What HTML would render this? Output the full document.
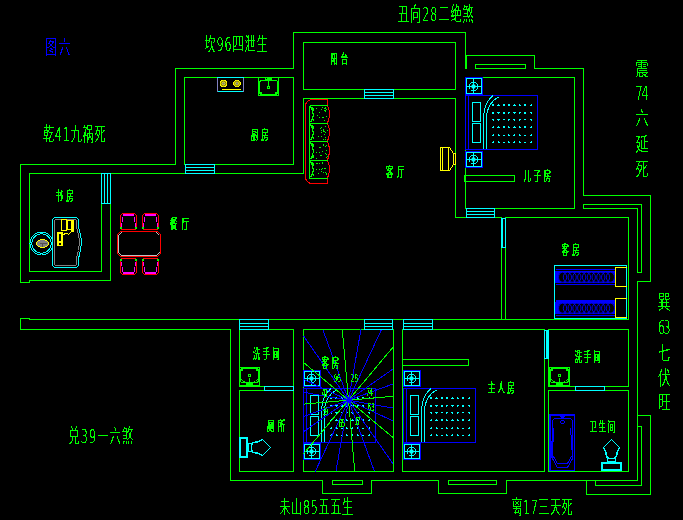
<!DOCTYPE html>
<html lang="zh"><head><meta charset="utf-8"><title>图六</title>
<style>
html,body{margin:0;padding:0;background:#000;overflow:hidden}
svg{display:block}
svg path{stroke-width:1;shape-rendering:crispEdges}
svg path:not(.f){fill:none}
svg path.s,svg circle.s,svg ellipse.s{shape-rendering:crispEdges;stroke-width:1;fill:none}
svg path.f{stroke:none;shape-rendering:crispEdges}
svg text{font-family:"Liberation Sans","Noto Sans CJK SC",sans-serif;font-weight:300}
svg text.sm{font-weight:400}
svg text{filter:url(#tb)}
svg text.sm{filter:url(#ts)}
svg tspan.d{font-family:"DejaVu Sans","Liberation Sans",sans-serif;font-weight:200}
</style></head><body>
<svg width="683" height="520" viewBox="0 0 683 520">
<defs>
<filter id="tb" x="-5%" y="-20%" width="110%" height="140%" color-interpolation-filters="sRGB"><feComponentTransfer><feFuncA type="discrete" tableValues="0 0 0 1 1 1 1 1 1 1"/></feComponentTransfer></filter>
<filter id="ts" x="-5%" y="-20%" width="110%" height="140%" color-interpolation-filters="sRGB"><feComponentTransfer><feFuncA type="discrete" tableValues="0 0 1 1 1 1 1 1 1"/></feComponentTransfer></filter>
</defs>
<rect width="683" height="520" fill="#000"/>
<!-- walls -->
<path d="M175.5,164.5 L20.5,164.5 L20.5,282.5 L29.5,282.5 L29.5,280.5 L110.5,280.5 L110.5,203.5" stroke="#00ff00"/>
<path d="M29.5,173.5 L101.5,173.5 L101.5,271.5 L29.5,271.5 Z" stroke="#00ff00"/>
<path d="M110.5,173.5 L303.5,173.5" stroke="#00ff00"/>
<path d="M175.5,164.5 L175.5,68.5 L293.5,68.5 L293.5,32.5 L465.5,32.5 L465.5,68.5" stroke="#00ff00"/>
<path d="M184.5,77.5 L293.5,77.5 L293.5,164.5 L184.5,164.5 Z" stroke="#00ff00"/>
<path d="M303.5,42.5 L455.5,42.5 L455.5,89.5 L303.5,89.5 Z" stroke="#00ff00"/>
<path d="M303.5,173.5 L303.5,98.5 L455.5,98.5 L455.5,217.5 L628.5,217.5 L628.5,319.5 L29.5,319.5 L29.5,318.5 L20.5,318.5 L20.5,329.5 L230.5,329.5 L230.5,480.5 L322.5,480.5 L322.5,493.5 L371.5,493.5 L371.5,480.5 L438.5,480.5 L438.5,493.5 L506.5,493.5 L506.5,480.5 L637.5,480.5 L637.5,281.5 L650.5,281.5 L650.5,195.5 L583.5,195.5 L583.5,68.5 L534.5,68.5 L534.5,55.5 L466.5,55.5 L466.5,68.5" stroke="#00ff00"/>
<path d="M465.5,77.5 L574.5,77.5 L574.5,208.5 L465.5,208.5 Z" stroke="#00ff00"/>
<path d="M475.5,64.5 L525.5,64.5 L525.5,68.5 L475.5,68.5 Z" stroke="#00ff00"/>
<path d="M464.5,175.5 L514.5,175.5 L514.5,181.5 L464.5,181.5 Z" stroke="#00ff00"/>
<path d="M583.5,204.5 L641.5,204.5 L641.5,272.5 L637.5,272.5 L637.5,208.5 L583.5,208.5 Z" stroke="#00ff00"/>
<path d="M501.5,247.5 L501.5,319.5" stroke="#00ff00"/>
<path d="M505.5,247.5 L505.5,319.5" stroke="#00ff00"/>
<path d="M239.5,329.5 L293.5,329.5 L293.5,386.5 L239.5,386.5 Z" stroke="#00ff00"/>
<path d="M239.5,390.5 L293.5,390.5 L293.5,471.5 L239.5,471.5 Z" stroke="#00ff00"/>
<path d="M303.5,329.5 L393.5,329.5 L393.5,471.5 L303.5,471.5 Z" stroke="#00ff00"/>
<path d="M402.5,329.5 L544.5,329.5 L544.5,471.5 L402.5,471.5 Z" stroke="#00ff00"/>
<path d="M548.5,329.5 L628.5,329.5 L628.5,386.5 L548.5,386.5 Z" stroke="#00ff00"/>
<path d="M548.5,390.5 L628.5,390.5 L628.5,471.5 L548.5,471.5 Z" stroke="#00ff00"/>
<path d="M544.5,358.5 L544.5,471.5" stroke="#00ff00"/>
<path d="M402.5,359.5 L468.5,359.5 L468.5,365.5 L402.5,365.5 Z" stroke="#00ff00"/>
<path d="M332.5,480.5 L362.5,480.5 L362.5,484.5 L332.5,484.5 Z" stroke="#00ff00"/>
<path d="M448.5,480.5 L496.5,480.5 L496.5,484.5 L448.5,484.5 Z" stroke="#00ff00"/>
<path d="M637.5,426.5 L641.5,426.5 L641.5,485.5 L595.5,485.5 L595.5,480.5" stroke="#00ff00"/>
<path d="M637.5,415.5 L650.5,415.5 L650.5,494.5 L586.5,494.5 L586.5,480.5" stroke="#00ff00"/>
<!-- doors -->
<path d="M101.5,173.5 L110.5,173.5 L110.5,203.5 L101.5,203.5 Z" stroke="#00ffff"/>
<path d="M104.5,173.5 L104.5,203.5" stroke="#00ffff"/>
<path d="M107.5,173.5 L107.5,203.5" stroke="#00ffff"/>
<path d="M185.5,164.5 L214.5,164.5 L214.5,173.5 L185.5,173.5 Z" stroke="#00ffff"/>
<path d="M185.5,167.5 L214.5,167.5" stroke="#00ffff"/>
<path d="M185.5,170.5 L214.5,170.5" stroke="#00ffff"/>
<path d="M364.5,89.5 L393.5,89.5 L393.5,98.5 L364.5,98.5 Z" stroke="#00ffff"/>
<path d="M364.5,92.5 L393.5,92.5" stroke="#00ffff"/>
<path d="M364.5,95.5 L393.5,95.5" stroke="#00ffff"/>
<path d="M466.5,208.5 L494.5,208.5 L494.5,217.5 L466.5,217.5 Z" stroke="#00ffff"/>
<path d="M466.5,211.5 L494.5,211.5" stroke="#00ffff"/>
<path d="M466.5,214.5 L494.5,214.5" stroke="#00ffff"/>
<rect x="502" y="217" width="3" height="1" fill="#000"/>
<path d="M501.5,218.5 L505.5,218.5 L505.5,247.5 L501.5,247.5 Z" stroke="#00ffff"/>
<path d="M502.5,218.5 L502.5,247.5" stroke="#00ffff"/>
<path d="M239.5,319.5 L268.5,319.5 L268.5,329.5 L239.5,329.5 Z" stroke="#00ffff"/>
<path d="M239.5,323.5 L268.5,323.5" stroke="#00ffff"/>
<path d="M239.5,326.5 L268.5,326.5" stroke="#00ffff"/>
<path d="M364.5,319.5 L392.5,319.5 L392.5,329.5 L364.5,329.5 Z" stroke="#00ffff"/>
<path d="M364.5,323.5 L392.5,323.5" stroke="#00ffff"/>
<path d="M364.5,326.5 L392.5,326.5" stroke="#00ffff"/>
<path d="M403.5,319.5 L432.5,319.5 L432.5,329.5 L403.5,329.5 Z" stroke="#00ffff"/>
<path d="M403.5,323.5 L432.5,323.5" stroke="#00ffff"/>
<path d="M403.5,326.5 L432.5,326.5" stroke="#00ffff"/>
<path d="M264.5,386.5 L293.5,386.5 L293.5,390.5 L264.5,390.5 Z" stroke="#00ffff"/>
<rect x="545" y="329" width="3" height="1" fill="#000"/>
<path d="M544.5,330.5 L548.5,330.5 L548.5,358.5 L544.5,358.5 Z" stroke="#00ffff"/>
<path d="M547.5,330.5 L547.5,358.5" stroke="#00ffff"/>
<path d="M546.5,330.5 L546.5,358.5" stroke="#00ffff"/>
<path d="M575.5,386.5 L604.5,386.5 L604.5,390.5 L575.5,390.5 Z" stroke="#00ffff"/>
<!-- son room bed -->
<path d="M465.5,77.5 L482.5,77.5 L482.5,94.5 L465.5,94.5 Z" stroke="#0000ff"/>
<path d="M466.5,78.5 L481.5,78.5 L481.5,93.5 L466.5,93.5 Z" stroke="#00ffff"/>
<path d="M466.5,86.5 L481.5,86.5" stroke="#00ffff"/>
<path d="M473.5,78.5 L473.5,93.5" stroke="#00ffff"/>
<circle class="s" cx="473.5" cy="86.5" r="4.5" fill="none" stroke="#00ffff"/>
<circle cx="473.5" cy="86.5" r="2.2" fill="#00ffff"/>
<path d="M465.5,95.5 L537.5,95.5 L537.5,149.5 L465.5,149.5 Z" stroke="#0000ff"/>
<path d="M468.5,95.5 L468.5,149.5" stroke="#0000ff"/>
<path d="M472.5,102.5 L480.5,102.5 L480.5,121.5 L472.5,121.5 Z" stroke="#00ffff"/>
<path d="M472.5,123.5 L480.5,123.5 L480.5,142.5 L472.5,142.5 Z" stroke="#00ffff"/>
<path class="s" d="M483.5,149 L483.5,117 Q484,103 493,95.5" stroke="#00ffff" />
<path class="s" d="M486.5,149 L486.5,118 Q487,103 499.5,96.5" stroke="#00ffff" />
<path class="f" d="M491.5,106.1h3.2l-1.6,-2.6ZM497.0,106.1h3.2l-1.6,-2.6ZM502.4,106.1h3.2l-1.6,-2.6ZM507.3,106.1h3.2l-1.6,-2.6ZM512.8,106.1h3.2l-1.6,-2.6ZM518.2,106.1h3.2l-1.6,-2.6ZM523.4,106.1h3.2l-1.6,-2.6ZM529.6,106.1h3.2l-1.6,-2.6ZM491.5,111.9h3.2l-1.6,2.6ZM497.0,111.9h3.2l-1.6,2.6ZM502.4,111.9h3.2l-1.6,2.6ZM507.3,111.9h3.2l-1.6,2.6ZM512.8,111.9h3.2l-1.6,2.6ZM518.2,111.9h3.2l-1.6,2.6ZM523.4,111.9h3.2l-1.6,2.6ZM529.6,111.9h3.2l-1.6,2.6ZM491.5,118.7h3.2l-1.6,2.6ZM497.0,118.7h3.2l-1.6,2.6ZM502.4,118.7h3.2l-1.6,2.6ZM507.3,118.7h3.2l-1.6,2.6ZM512.8,118.7h3.2l-1.6,2.6ZM518.2,118.7h3.2l-1.6,2.6ZM523.4,118.7h3.2l-1.6,2.6ZM529.6,118.7h3.2l-1.6,2.6ZM491.5,128.2h3.2l-1.6,-2.6ZM497.0,128.2h3.2l-1.6,-2.6ZM502.4,128.2h3.2l-1.6,-2.6ZM507.3,128.2h3.2l-1.6,-2.6ZM512.8,128.2h3.2l-1.6,-2.6ZM518.2,128.2h3.2l-1.6,-2.6ZM523.4,128.2h3.2l-1.6,-2.6ZM529.6,128.2h3.2l-1.6,-2.6ZM491.5,136.4h3.2l-1.6,-2.6ZM497.0,136.4h3.2l-1.6,-2.6ZM502.4,136.4h3.2l-1.6,-2.6ZM507.3,136.4h3.2l-1.6,-2.6ZM512.8,136.4h3.2l-1.6,-2.6ZM518.2,136.4h3.2l-1.6,-2.6ZM523.4,136.4h3.2l-1.6,-2.6ZM529.6,136.4h3.2l-1.6,-2.6ZM491.5,143.4h3.2l-1.6,-2.6ZM497.0,143.4h3.2l-1.6,-2.6ZM502.4,143.4h3.2l-1.6,-2.6ZM507.3,143.4h3.2l-1.6,-2.6ZM512.8,143.4h3.2l-1.6,-2.6ZM518.2,143.4h3.2l-1.6,-2.6ZM523.4,143.4h3.2l-1.6,-2.6ZM529.6,143.4h3.2l-1.6,-2.6Z" fill="#00ffff"/>
<path d="M465.5,151.5 L482.5,151.5 L482.5,167.5 L465.5,167.5 Z" stroke="#0000ff"/>
<path d="M466.5,152.5 L481.5,152.5 L481.5,166.5 L466.5,166.5 Z" stroke="#00ffff"/>
<path d="M466.5,159.5 L481.5,159.5" stroke="#00ffff"/>
<path d="M473.5,152.5 L473.5,166.5" stroke="#00ffff"/>
<circle class="s" cx="473.5" cy="159.5" r="4.5" fill="none" stroke="#00ffff"/>
<circle cx="473.5" cy="159.5" r="2.2" fill="#00ffff"/>
<!-- master bed -->
<path d="M403.5,370.5 L420.5,370.5 L420.5,386.5 L403.5,386.5 Z" stroke="#0000ff"/>
<path d="M404.5,371.5 L419.5,371.5 L419.5,385.5 L404.5,385.5 Z" stroke="#00ffff"/>
<path d="M404.5,378.5 L419.5,378.5" stroke="#00ffff"/>
<path d="M411.5,371.5 L411.5,385.5" stroke="#00ffff"/>
<circle class="s" cx="411.5" cy="378.5" r="4.5" fill="none" stroke="#00ffff"/>
<circle cx="411.5" cy="378.5" r="2.2" fill="#00ffff"/>
<path d="M403.5,388.5 L475.5,388.5 L475.5,442.5 L403.5,442.5 Z" stroke="#0000ff"/>
<path d="M406.5,388.5 L406.5,442.5" stroke="#0000ff"/>
<path d="M410.5,395.5 L418.5,395.5 L418.5,414.5 L410.5,414.5 Z" stroke="#00ffff"/>
<path d="M410.5,416.5 L418.5,416.5 L418.5,435.5 L410.5,435.5 Z" stroke="#00ffff"/>
<path class="s" d="M421.5,442 L421.5,410 Q422,396 431,388.5" stroke="#00ffff" />
<path class="s" d="M424.5,442 L424.5,411 Q425,396 437.5,389.5" stroke="#00ffff" />
<path class="f" d="M429.5,399.1h3.2l-1.6,-2.6ZM435.0,399.1h3.2l-1.6,-2.6ZM440.4,399.1h3.2l-1.6,-2.6ZM445.3,399.1h3.2l-1.6,-2.6ZM450.8,399.1h3.2l-1.6,-2.6ZM456.2,399.1h3.2l-1.6,-2.6ZM461.4,399.1h3.2l-1.6,-2.6ZM467.6,399.1h3.2l-1.6,-2.6ZM429.5,404.9h3.2l-1.6,2.6ZM435.0,404.9h3.2l-1.6,2.6ZM440.4,404.9h3.2l-1.6,2.6ZM445.3,404.9h3.2l-1.6,2.6ZM450.8,404.9h3.2l-1.6,2.6ZM456.2,404.9h3.2l-1.6,2.6ZM461.4,404.9h3.2l-1.6,2.6ZM467.6,404.9h3.2l-1.6,2.6ZM429.5,411.7h3.2l-1.6,2.6ZM435.0,411.7h3.2l-1.6,2.6ZM440.4,411.7h3.2l-1.6,2.6ZM445.3,411.7h3.2l-1.6,2.6ZM450.8,411.7h3.2l-1.6,2.6ZM456.2,411.7h3.2l-1.6,2.6ZM461.4,411.7h3.2l-1.6,2.6ZM467.6,411.7h3.2l-1.6,2.6ZM429.5,421.2h3.2l-1.6,-2.6ZM435.0,421.2h3.2l-1.6,-2.6ZM440.4,421.2h3.2l-1.6,-2.6ZM445.3,421.2h3.2l-1.6,-2.6ZM450.8,421.2h3.2l-1.6,-2.6ZM456.2,421.2h3.2l-1.6,-2.6ZM461.4,421.2h3.2l-1.6,-2.6ZM467.6,421.2h3.2l-1.6,-2.6ZM429.5,429.4h3.2l-1.6,-2.6ZM435.0,429.4h3.2l-1.6,-2.6ZM440.4,429.4h3.2l-1.6,-2.6ZM445.3,429.4h3.2l-1.6,-2.6ZM450.8,429.4h3.2l-1.6,-2.6ZM456.2,429.4h3.2l-1.6,-2.6ZM461.4,429.4h3.2l-1.6,-2.6ZM467.6,429.4h3.2l-1.6,-2.6ZM429.5,436.4h3.2l-1.6,-2.6ZM435.0,436.4h3.2l-1.6,-2.6ZM440.4,436.4h3.2l-1.6,-2.6ZM445.3,436.4h3.2l-1.6,-2.6ZM450.8,436.4h3.2l-1.6,-2.6ZM456.2,436.4h3.2l-1.6,-2.6ZM461.4,436.4h3.2l-1.6,-2.6ZM467.6,436.4h3.2l-1.6,-2.6Z" fill="#00ffff"/>
<path d="M403.5,443.5 L420.5,443.5 L420.5,459.5 L403.5,459.5 Z" stroke="#0000ff"/>
<path d="M404.5,444.5 L419.5,444.5 L419.5,458.5 L404.5,458.5 Z" stroke="#00ffff"/>
<path d="M404.5,451.5 L419.5,451.5" stroke="#00ffff"/>
<path d="M411.5,444.5 L411.5,458.5" stroke="#00ffff"/>
<circle class="s" cx="411.5" cy="451.5" r="4.5" fill="none" stroke="#00ffff"/>
<circle cx="411.5" cy="451.5" r="2.2" fill="#00ffff"/>
<!-- middle bed -->
<path d="M303.5,370.5 L320.5,370.5 L320.5,386.5 L303.5,386.5 Z" stroke="#0000ff"/>
<path d="M304.5,371.5 L319.5,371.5 L319.5,385.5 L304.5,385.5 Z" stroke="#00ffff"/>
<path d="M304.5,378.5 L319.5,378.5" stroke="#00ffff"/>
<path d="M311.5,371.5 L311.5,385.5" stroke="#00ffff"/>
<circle class="s" cx="311.5" cy="378.5" r="4.5" fill="none" stroke="#00ffff"/>
<circle cx="311.5" cy="378.5" r="2.2" fill="#00ffff"/>
<path d="M303.5,388.5 L375.5,388.5 L375.5,442.5 L303.5,442.5 Z" stroke="#0000ff"/>
<path d="M306.5,388.5 L306.5,442.5" stroke="#0000ff"/>
<path d="M310.5,395.5 L318.5,395.5 L318.5,414.5 L310.5,414.5 Z" stroke="#00ffff"/>
<path d="M310.5,416.5 L318.5,416.5 L318.5,435.5 L310.5,435.5 Z" stroke="#00ffff"/>
<path class="s" d="M321.5,442 L321.5,410 Q322,396 331,388.5" stroke="#00ffff" />
<path class="s" d="M324.5,442 L324.5,411 Q325,396 337.5,389.5" stroke="#00ffff" />
<path class="f" d="M329.5,399.1h3.2l-1.6,-2.6ZM335.0,399.1h3.2l-1.6,-2.6ZM340.4,399.1h3.2l-1.6,-2.6ZM345.3,399.1h3.2l-1.6,-2.6ZM350.8,399.1h3.2l-1.6,-2.6ZM356.2,399.1h3.2l-1.6,-2.6ZM361.4,399.1h3.2l-1.6,-2.6ZM367.6,399.1h3.2l-1.6,-2.6ZM329.5,404.9h3.2l-1.6,2.6ZM335.0,404.9h3.2l-1.6,2.6ZM340.4,404.9h3.2l-1.6,2.6ZM345.3,404.9h3.2l-1.6,2.6ZM350.8,404.9h3.2l-1.6,2.6ZM356.2,404.9h3.2l-1.6,2.6ZM361.4,404.9h3.2l-1.6,2.6ZM367.6,404.9h3.2l-1.6,2.6ZM329.5,411.7h3.2l-1.6,2.6ZM335.0,411.7h3.2l-1.6,2.6ZM340.4,411.7h3.2l-1.6,2.6ZM345.3,411.7h3.2l-1.6,2.6ZM350.8,411.7h3.2l-1.6,2.6ZM356.2,411.7h3.2l-1.6,2.6ZM361.4,411.7h3.2l-1.6,2.6ZM367.6,411.7h3.2l-1.6,2.6ZM329.5,421.2h3.2l-1.6,-2.6ZM335.0,421.2h3.2l-1.6,-2.6ZM340.4,421.2h3.2l-1.6,-2.6ZM345.3,421.2h3.2l-1.6,-2.6ZM350.8,421.2h3.2l-1.6,-2.6ZM356.2,421.2h3.2l-1.6,-2.6ZM361.4,421.2h3.2l-1.6,-2.6ZM367.6,421.2h3.2l-1.6,-2.6ZM329.5,429.4h3.2l-1.6,-2.6ZM335.0,429.4h3.2l-1.6,-2.6ZM340.4,429.4h3.2l-1.6,-2.6ZM345.3,429.4h3.2l-1.6,-2.6ZM350.8,429.4h3.2l-1.6,-2.6ZM356.2,429.4h3.2l-1.6,-2.6ZM361.4,429.4h3.2l-1.6,-2.6ZM367.6,429.4h3.2l-1.6,-2.6ZM329.5,436.4h3.2l-1.6,-2.6ZM335.0,436.4h3.2l-1.6,-2.6ZM340.4,436.4h3.2l-1.6,-2.6ZM345.3,436.4h3.2l-1.6,-2.6ZM350.8,436.4h3.2l-1.6,-2.6ZM356.2,436.4h3.2l-1.6,-2.6ZM361.4,436.4h3.2l-1.6,-2.6ZM367.6,436.4h3.2l-1.6,-2.6Z" fill="#00ffff"/>
<path d="M303.5,443.5 L320.5,443.5 L320.5,459.5 L303.5,459.5 Z" stroke="#0000ff"/>
<path d="M304.5,444.5 L319.5,444.5 L319.5,458.5 L304.5,458.5 Z" stroke="#00ffff"/>
<path d="M304.5,451.5 L319.5,451.5" stroke="#00ffff"/>
<path d="M311.5,444.5 L311.5,458.5" stroke="#00ffff"/>
<circle class="s" cx="311.5" cy="451.5" r="4.5" fill="none" stroke="#00ffff"/>
<circle cx="311.5" cy="451.5" r="2.2" fill="#00ffff"/>
<!-- study desk -->
<circle class="s" cx="41.5" cy="243.5" r="11.5" stroke="#00ffff"/>
<circle class="s" cx="41.5" cy="243.5" r="9.8" stroke="#00ffff"/>
<ellipse cx="42.5" cy="243.5" rx="6" ry="4" fill="#808080" stroke="#ffff00" stroke-width="1" shape-rendering="crispEdges"/>
<path d="M39.5,243.5 L46.5,243.5" stroke="#505050"/>
<path d="M42.5,242.5 L42.5,246.5" stroke="#505050"/>
<rect x="52.5" y="218" width="25" height="49" fill="#000"/>
<path  d="M52.5,219.5 L54.5,217.5 L76.5,217.5 L78.5,219.5 L78.5,226.5 L80.5,234.5 L81.5,241.5 L80.5,250.5 L78.5,258.5 L78.5,265.5 L76.5,267.5 L54.5,267.5 L52.5,265.5 Z" stroke="#00ffff"/>
<path  d="M54.5,220.5 L55.5,219.5 L75.5,219.5 L76.5,220.5 L76.5,227.5 L78.5,234.5 L79.5,241.5 L78.5,250.5 L76.5,257.5 L76.5,264.5 L75.5,265.5 L55.5,265.5 L54.5,264.5 Z" stroke="#808080"/>
<path d="M61.5,219.5 L66.5,219.5 L66.5,230.5 L61.5,230.5 Z" stroke="#ffff00"/>
<path d="M67.5,220.5 L73.5,220.5 L73.5,229.5 L67.5,229.5 Z" stroke="#ffff00"/>
<rect x="71" y="220" width="3" height="12" fill="#ffff00"/>
<rect x="57" y="232" width="6" height="14" fill="#ffff00"/>
<rect x="59" y="234" width="2" height="7" fill="#000"/>
<rect x="59" y="243" width="2" height="2" fill="#000"/>
<path d="M63.5,235.5 L64.5,233.5 L67.5,233.5 L68.5,234.5 L70.5,232.5" stroke="#ffff00"/>
<!-- dining -->
<path  d="M117.5,234.5 L120.5,231.5 L157.5,231.5 L160.5,234.5 L160.5,253.5 L157.5,256.5 L120.5,256.5 L117.5,253.5 Z" stroke="#ff0000"/>
<path d="M121.5,232.5 L118.5,235.5 L118.5,252.5 L121.5,255.5 L156.5,255.5 L159.5,252.5" stroke="#c0c0c0"/>
<path d="M156.5,232.5 L159.5,235.5" stroke="#c0c0c0"/>
<path  d="M122.5,213.5 L134.5,213.5 L136.5,215.5 L136.5,228.5 L135.5,229.5 L121.5,229.5 L120.5,228.5 L120.5,215.5 Z" stroke="#ff0000"/>
<rect x="123" y="214" width="11" height="2" fill="#ff00ff"/>
<path d="M122.5,216.5 L122.5,221.5" stroke="#ff00ff"/>
<path d="M121.5,222.5 L121.5,226.5" stroke="#ff00ff"/>
<path d="M134.5,216.5 L134.5,221.5" stroke="#ff00ff"/>
<path d="M135.5,222.5 L135.5,226.5" stroke="#ff00ff"/>
<rect x="120" y="227" width="2" height="2" fill="#00ff00"/>
<rect x="135" y="227" width="2" height="2" fill="#00ff00"/>
<path  d="M144.5,213.5 L156.5,213.5 L158.5,215.5 L158.5,228.5 L157.5,229.5 L143.5,229.5 L142.5,228.5 L142.5,215.5 Z" stroke="#ff0000"/>
<rect x="145" y="214" width="11" height="2" fill="#ff00ff"/>
<path d="M144.5,216.5 L144.5,221.5" stroke="#ff00ff"/>
<path d="M143.5,222.5 L143.5,226.5" stroke="#ff00ff"/>
<path d="M156.5,216.5 L156.5,221.5" stroke="#ff00ff"/>
<path d="M157.5,222.5 L157.5,226.5" stroke="#ff00ff"/>
<rect x="142" y="227" width="2" height="2" fill="#00ff00"/>
<rect x="157" y="227" width="2" height="2" fill="#00ff00"/>
<path  d="M122.5,274.5 L134.5,274.5 L136.5,272.5 L136.5,259.5 L135.5,258.5 L121.5,258.5 L120.5,259.5 L120.5,272.5 Z" stroke="#ff0000"/>
<rect x="123" y="272" width="11" height="2" fill="#ff00ff"/>
<path d="M122.5,266.5 L122.5,271.5" stroke="#ff00ff"/>
<path d="M121.5,261.5 L121.5,265.5" stroke="#ff00ff"/>
<path d="M134.5,266.5 L134.5,271.5" stroke="#ff00ff"/>
<path d="M135.5,261.5 L135.5,265.5" stroke="#ff00ff"/>
<rect x="120" y="259" width="2" height="2" fill="#00ff00"/>
<rect x="135" y="259" width="2" height="2" fill="#00ff00"/>
<path  d="M144.5,274.5 L156.5,274.5 L158.5,272.5 L158.5,259.5 L157.5,258.5 L143.5,258.5 L142.5,259.5 L142.5,272.5 Z" stroke="#ff0000"/>
<rect x="145" y="272" width="11" height="2" fill="#ff00ff"/>
<path d="M144.5,266.5 L144.5,271.5" stroke="#ff00ff"/>
<path d="M143.5,261.5 L143.5,265.5" stroke="#ff00ff"/>
<path d="M156.5,266.5 L156.5,271.5" stroke="#ff00ff"/>
<path d="M157.5,261.5 L157.5,265.5" stroke="#ff00ff"/>
<rect x="142" y="259" width="2" height="2" fill="#00ff00"/>
<rect x="157" y="259" width="2" height="2" fill="#00ff00"/>
<!-- stove -->
<path d="M217.5,77.5 L243.5,77.5 L243.5,91.5 L217.5,91.5 Z" stroke="#00ffff"/>
<path d="M217.5,77.5 L217.5,91.5" stroke="#8080c0"/>
<path d="M243.5,77.5 L243.5,91.5" stroke="#8080c0"/>
<circle cx="223.5" cy="83.5" r="3.7" fill="#ffff00" shape-rendering="crispEdges"/>
<circle cx="223.5" cy="83.5" r="2.4" fill="none" stroke="#605000" stroke-width="0.8"/>
<circle cx="223.5" cy="83.5" r="1.3" fill="#808080"/>
<circle cx="237" cy="83.5" r="3.7" fill="#ffff00" shape-rendering="crispEdges"/>
<circle cx="237" cy="83.5" r="2.4" fill="none" stroke="#605000" stroke-width="0.8"/>
<circle cx="237" cy="83.5" r="1.3" fill="#808080"/>
<path d="M221.5,89.5 L240.5,89.5" stroke="#ffff00"/>
<!-- sinks -->
<path d="M258.5,77.5 L278.5,77.5 L278.5,95.5 L258.5,95.5 Z" stroke="#00ff00"/>
<rect x="259.5" y="80.5" width="18" height="14" rx="2.5" fill="none" stroke="#00ff00" shape-rendering="crispEdges"/>
<rect x="265" y="78" width="7" height="2" fill="#00ff00"/>
<rect x="266" y="78" width="1" height="1" fill="#000"/>
<path d="M268.5,80.5 L268.5,85.5" stroke="#00ff00"/>
<path d="M267.5,86.5 L269.5,86.5 L269.5,88.5 L267.5,88.5 Z" stroke="#00ff00"/>
<rect x="260" y="92" width="2" height="2" fill="#00ff00"/>
<rect x="275" y="92" width="2" height="2" fill="#00ff00"/>
<path d="M239.5,367.5 L259.5,367.5 L259.5,385.5 L239.5,385.5 Z" stroke="#00ff00"/>
<rect x="240.5" y="368.5" width="18" height="14" rx="2.5" fill="none" stroke="#00ff00" shape-rendering="crispEdges"/>
<rect x="246" y="383" width="7" height="2" fill="#00ff00"/>
<path d="M249.5,377.5 L249.5,382.5" stroke="#00ff00"/>
<path d="M248.5,374.5 L250.5,374.5 L250.5,376.5 L248.5,376.5 Z" stroke="#00ff00"/>
<rect x="241" y="369" width="2" height="2" fill="#00ff00"/>
<rect x="256" y="369" width="2" height="2" fill="#00ff00"/>
<path d="M241.5,379.5 L243.5,381.5 L246.5,382.5" stroke="#00ff00"/>
<path d="M252.5,382.5 L255.5,381.5 L257.5,379.5" stroke="#00ff00"/>
<path d="M549.5,367.5 L569.5,367.5 L569.5,385.5 L549.5,385.5 Z" stroke="#00ff00"/>
<rect x="550.5" y="368.5" width="18" height="14" rx="2.5" fill="none" stroke="#00ff00" shape-rendering="crispEdges"/>
<rect x="556" y="383" width="7" height="2" fill="#00ff00"/>
<path d="M559.5,377.5 L559.5,382.5" stroke="#00ff00"/>
<path d="M558.5,374.5 L560.5,374.5 L560.5,376.5 L558.5,376.5 Z" stroke="#00ff00"/>
<rect x="551" y="369" width="2" height="2" fill="#00ff00"/>
<rect x="566" y="369" width="2" height="2" fill="#00ff00"/>
<path d="M551.5,379.5 L553.5,381.5 L556.5,382.5" stroke="#00ff00"/>
<path d="M562.5,382.5 L565.5,381.5 L567.5,379.5" stroke="#00ff00"/>
<!-- sofa -->
<path d="M327.5,99.5 L313,99.5 Q305.5,99.5 305.5,107 L305.5,176 Q305.5,183.5 313,183.5 L327.5,183.5 L327.5,178" stroke="#ff0000" />
<path d="M327.5,99.5 L327.5,105 L327.5,105.5 L328.5,108.5 L329.5,112.0 L329.5,116.0 L328.5,119.5 L327.5,123.5 L327.5,123.5 L328.5,126.5 L329.5,130.0 L329.5,134.0 L328.5,137.5 L327.5,141.5 L327.5,141.5 L328.5,144.5 L329.5,148.5 L329.5,152.5 L328.5,156.5 L327.5,160.5 L327.5,160.5 L328.5,163.5 L329.5,167.0 L329.5,171.0 L328.5,174.5 L327.5,178.5" stroke="#ff0000" />
<path d="M309.5,105.5 L327.5,105.5" stroke="#00ff00"/>
<path d="M309.5,105.5 L309.5,123.5" stroke="#00ff00"/>
<path d="M310.5,106.5 L312.5,110.5 L313.5,114.5 L312.5,118.5 L310.5,122.5" stroke="#00ff00"/>
<path d="M312.5,107.5 L313.5,109.5 L312.5,112.5 L313.5,115.5 L312.5,118.5 L313.5,120.5 L312.5,121.5" stroke="#00ff00"/>
<rect x="319" y="117" width="1" height="1" fill="#00ff00"/>
<rect x="326" y="109" width="1" height="1" fill="#00ff00"/>
<rect x="325" y="107" width="1" height="1" fill="#00ff00"/>
<rect x="324" y="110" width="1" height="1" fill="#00ff00"/>
<rect x="323" y="117" width="1" height="1" fill="#00ff00"/>
<rect x="325" y="110" width="1" height="1" fill="#00ff00"/>
<rect x="324" y="120" width="1" height="1" fill="#00ff00"/>
<rect x="317" y="115" width="1" height="1" fill="#00ff00"/>
<rect x="319" y="112" width="1" height="1" fill="#00ff00"/>
<rect x="321" y="109" width="1" height="1" fill="#00ff00"/>
<rect x="324" y="108" width="1" height="1" fill="#00ff00"/>
<rect x="325" y="108" width="1" height="1" fill="#00ff00"/>
<rect x="325" y="111" width="1" height="1" fill="#00ff00"/>
<rect x="322" y="117" width="1" height="1" fill="#00ff00"/>
<rect x="316" y="108" width="1" height="1" fill="#00ff00"/>
<rect x="322" y="107" width="1" height="1" fill="#00ff00"/>
<rect x="326" y="116" width="1" height="1" fill="#00ff00"/>
<path d="M309.5,123.5 L327.5,123.5" stroke="#00ff00"/>
<path d="M309.5,123.5 L309.5,141.5" stroke="#00ff00"/>
<path d="M310.5,124.5 L312.5,128.5 L313.5,132.5 L312.5,136.5 L310.5,140.5" stroke="#00ff00"/>
<path d="M312.5,125.5 L313.5,127.5 L312.5,130.5 L313.5,133.5 L312.5,136.5 L313.5,138.5 L312.5,139.5" stroke="#00ff00"/>
<rect x="318" y="136" width="1" height="1" fill="#00ff00"/>
<rect x="325" y="139" width="1" height="1" fill="#00ff00"/>
<rect x="321" y="136" width="1" height="1" fill="#00ff00"/>
<rect x="321" y="130" width="1" height="1" fill="#00ff00"/>
<rect x="327" y="130" width="1" height="1" fill="#00ff00"/>
<rect x="323" y="130" width="1" height="1" fill="#00ff00"/>
<rect x="325" y="126" width="1" height="1" fill="#00ff00"/>
<rect x="325" y="132" width="1" height="1" fill="#00ff00"/>
<rect x="323" y="139" width="1" height="1" fill="#00ff00"/>
<rect x="321" y="132" width="1" height="1" fill="#00ff00"/>
<rect x="323" y="129" width="1" height="1" fill="#00ff00"/>
<rect x="324" y="134" width="1" height="1" fill="#00ff00"/>
<rect x="320" y="128" width="1" height="1" fill="#00ff00"/>
<rect x="324" y="131" width="1" height="1" fill="#00ff00"/>
<rect x="325" y="137" width="1" height="1" fill="#00ff00"/>
<rect x="321" y="127" width="1" height="1" fill="#00ff00"/>
<rect x="323" y="131" width="1" height="1" fill="#00ff00"/>
<path d="M309.5,141.5 L327.5,141.5" stroke="#00ff00"/>
<path d="M309.5,141.5 L309.5,160.5" stroke="#00ff00"/>
<path d="M310.5,142.5 L312.5,146.5 L313.5,151 L312.5,155.5 L310.5,159.5" stroke="#00ff00"/>
<path d="M312.5,143.5 L313.5,145.5 L312.5,148.5 L313.5,151.5 L312.5,154.5 L313.5,156.5 L312.5,158.5" stroke="#00ff00"/>
<rect x="319" y="152" width="1" height="1" fill="#00ff00"/>
<rect x="326" y="154" width="1" height="1" fill="#00ff00"/>
<rect x="322" y="151" width="1" height="1" fill="#00ff00"/>
<rect x="321" y="155" width="1" height="1" fill="#00ff00"/>
<rect x="326" y="157" width="1" height="1" fill="#00ff00"/>
<rect x="316" y="152" width="1" height="1" fill="#00ff00"/>
<rect x="320" y="155" width="1" height="1" fill="#00ff00"/>
<rect x="316" y="158" width="1" height="1" fill="#00ff00"/>
<rect x="326" y="150" width="1" height="1" fill="#00ff00"/>
<rect x="323" y="145" width="1" height="1" fill="#00ff00"/>
<rect x="319" y="147" width="1" height="1" fill="#00ff00"/>
<rect x="320" y="147" width="1" height="1" fill="#00ff00"/>
<rect x="325" y="153" width="1" height="1" fill="#00ff00"/>
<rect x="323" y="144" width="1" height="1" fill="#00ff00"/>
<rect x="325" y="146" width="1" height="1" fill="#00ff00"/>
<rect x="326" y="145" width="1" height="1" fill="#00ff00"/>
<rect x="327" y="156" width="1" height="1" fill="#00ff00"/>
<path d="M309.5,160.5 L327.5,160.5" stroke="#00ff00"/>
<path d="M309.5,160.5 L309.5,178.5" stroke="#00ff00"/>
<path d="M310.5,161.5 L312.5,165.5 L313.5,169.5 L312.5,173.5 L310.5,177.5" stroke="#00ff00"/>
<path d="M312.5,162.5 L313.5,164.5 L312.5,167.5 L313.5,170.5 L312.5,173.5 L313.5,175.5 L312.5,176.5" stroke="#00ff00"/>
<rect x="324" y="168" width="1" height="1" fill="#00ff00"/>
<rect x="316" y="169" width="1" height="1" fill="#00ff00"/>
<rect x="323" y="172" width="1" height="1" fill="#00ff00"/>
<rect x="325" y="168" width="1" height="1" fill="#00ff00"/>
<rect x="321" y="169" width="1" height="1" fill="#00ff00"/>
<rect x="326" y="173" width="1" height="1" fill="#00ff00"/>
<rect x="321" y="171" width="1" height="1" fill="#00ff00"/>
<rect x="322" y="163" width="1" height="1" fill="#00ff00"/>
<rect x="317" y="163" width="1" height="1" fill="#00ff00"/>
<rect x="318" y="173" width="1" height="1" fill="#00ff00"/>
<rect x="319" y="163" width="1" height="1" fill="#00ff00"/>
<rect x="319" y="169" width="1" height="1" fill="#00ff00"/>
<rect x="316" y="163" width="1" height="1" fill="#00ff00"/>
<rect x="325" y="172" width="1" height="1" fill="#00ff00"/>
<rect x="322" y="162" width="1" height="1" fill="#00ff00"/>
<rect x="322" y="168" width="1" height="1" fill="#00ff00"/>
<rect x="326" y="174" width="1" height="1" fill="#00ff00"/>
<path d="M309.5,178.5 L327.5,178.5" stroke="#00ff00"/>
<!-- tv -->
<path d="M449.5,147.5 L440.5,147.5 L440.5,170.5 L449.5,170.5" stroke="#ffff00"/>
<path d="M442.5,147.5 L442.5,170.5" stroke="#ffff00"/>
<path d="M448.5,147.5 L448.5,170.5" stroke="#ffff00"/>
<path d="M449.5,147.5 L453.5,153.5 L455.5,153.5 L455.5,164.5 L453.5,164.5 L449.5,170.5" stroke="#ffff00"/>
<path d="M453.5,153.5 L453.5,164.5" stroke="#ffff00"/>
<!-- guest bed -->
<path d="M554.5,265.5 L626.5,265.5 L626.5,318.5 L554.5,318.5 Z" stroke="#00ffff"/>
<path d="M555.5,269.5 L614.5,269.5" stroke="#0000ff"/>
<rect x="555" y="271" width="60" height="12" fill="#0000ff"/>
<path d="M555.5,284.5 L614.5,284.5" stroke="#0000ff"/>
<ellipse cx="562.6" cy="277.2" rx="4.4" ry="5.3" fill="#000"/>
<ellipse cx="567.4" cy="277.2" rx="4.4" ry="5.3" fill="#000"/>
<ellipse cx="572.2" cy="277.2" rx="4.4" ry="5.3" fill="#000"/>
<ellipse cx="576.9" cy="277.2" rx="4.4" ry="5.3" fill="#000"/>
<ellipse cx="581.7" cy="277.2" rx="4.4" ry="5.3" fill="#000"/>
<ellipse cx="586.5" cy="277.2" rx="4.4" ry="5.3" fill="#000"/>
<ellipse cx="591.3" cy="277.2" rx="4.4" ry="5.3" fill="#000"/>
<ellipse cx="596.1" cy="277.2" rx="4.4" ry="5.3" fill="#000"/>
<ellipse cx="600.8" cy="277.2" rx="4.4" ry="5.3" fill="#000"/>
<ellipse cx="605.6" cy="277.2" rx="4.4" ry="5.3" fill="#000"/>
<ellipse cx="610.4" cy="277.2" rx="4.4" ry="5.3" fill="#000"/>
<ellipse cx="562.6" cy="277.2" rx="4.1" ry="5" fill="none" stroke="#0000ff" stroke-width="0.9"/>
<ellipse cx="567.4" cy="277.2" rx="4.1" ry="5" fill="none" stroke="#0000ff" stroke-width="0.9"/>
<ellipse cx="572.2" cy="277.2" rx="4.1" ry="5" fill="none" stroke="#0000ff" stroke-width="0.9"/>
<ellipse cx="576.9" cy="277.2" rx="4.1" ry="5" fill="none" stroke="#0000ff" stroke-width="0.9"/>
<ellipse cx="581.7" cy="277.2" rx="4.1" ry="5" fill="none" stroke="#0000ff" stroke-width="0.9"/>
<ellipse cx="586.5" cy="277.2" rx="4.1" ry="5" fill="none" stroke="#0000ff" stroke-width="0.9"/>
<ellipse cx="591.3" cy="277.2" rx="4.1" ry="5" fill="none" stroke="#0000ff" stroke-width="0.9"/>
<ellipse cx="596.1" cy="277.2" rx="4.1" ry="5" fill="none" stroke="#0000ff" stroke-width="0.9"/>
<ellipse cx="600.8" cy="277.2" rx="4.1" ry="5" fill="none" stroke="#0000ff" stroke-width="0.9"/>
<ellipse cx="605.6" cy="277.2" rx="4.1" ry="5" fill="none" stroke="#0000ff" stroke-width="0.9"/>
<ellipse cx="610.4" cy="277.2" rx="4.1" ry="5" fill="none" stroke="#0000ff" stroke-width="0.9"/>
<path d="M555.5,300.5 L614.5,300.5" stroke="#0000ff"/>
<rect x="555" y="302" width="60" height="12" fill="#0000ff"/>
<path d="M555.5,315.5 L614.5,315.5" stroke="#0000ff"/>
<ellipse cx="562.6" cy="308.2" rx="4.4" ry="5.3" fill="#000"/>
<ellipse cx="567.4" cy="308.2" rx="4.4" ry="5.3" fill="#000"/>
<ellipse cx="572.2" cy="308.2" rx="4.4" ry="5.3" fill="#000"/>
<ellipse cx="576.9" cy="308.2" rx="4.4" ry="5.3" fill="#000"/>
<ellipse cx="581.7" cy="308.2" rx="4.4" ry="5.3" fill="#000"/>
<ellipse cx="586.5" cy="308.2" rx="4.4" ry="5.3" fill="#000"/>
<ellipse cx="591.3" cy="308.2" rx="4.4" ry="5.3" fill="#000"/>
<ellipse cx="596.1" cy="308.2" rx="4.4" ry="5.3" fill="#000"/>
<ellipse cx="600.8" cy="308.2" rx="4.4" ry="5.3" fill="#000"/>
<ellipse cx="605.6" cy="308.2" rx="4.4" ry="5.3" fill="#000"/>
<ellipse cx="610.4" cy="308.2" rx="4.4" ry="5.3" fill="#000"/>
<ellipse cx="562.6" cy="308.2" rx="4.1" ry="5" fill="none" stroke="#0000ff" stroke-width="0.9"/>
<ellipse cx="567.4" cy="308.2" rx="4.1" ry="5" fill="none" stroke="#0000ff" stroke-width="0.9"/>
<ellipse cx="572.2" cy="308.2" rx="4.1" ry="5" fill="none" stroke="#0000ff" stroke-width="0.9"/>
<ellipse cx="576.9" cy="308.2" rx="4.1" ry="5" fill="none" stroke="#0000ff" stroke-width="0.9"/>
<ellipse cx="581.7" cy="308.2" rx="4.1" ry="5" fill="none" stroke="#0000ff" stroke-width="0.9"/>
<ellipse cx="586.5" cy="308.2" rx="4.1" ry="5" fill="none" stroke="#0000ff" stroke-width="0.9"/>
<ellipse cx="591.3" cy="308.2" rx="4.1" ry="5" fill="none" stroke="#0000ff" stroke-width="0.9"/>
<ellipse cx="596.1" cy="308.2" rx="4.1" ry="5" fill="none" stroke="#0000ff" stroke-width="0.9"/>
<ellipse cx="600.8" cy="308.2" rx="4.1" ry="5" fill="none" stroke="#0000ff" stroke-width="0.9"/>
<ellipse cx="605.6" cy="308.2" rx="4.1" ry="5" fill="none" stroke="#0000ff" stroke-width="0.9"/>
<ellipse cx="610.4" cy="308.2" rx="4.1" ry="5" fill="none" stroke="#0000ff" stroke-width="0.9"/>
<path d="M555.5,301.5 L614.5,301.5" stroke="#0000ff"/>
<path d="M626.5,267.5 L615.5,267.5 L615.5,286.5 L626.5,286.5" stroke="#ffff00"/>
<path d="M626.5,298.5 L615.5,298.5 L615.5,317.5 L626.5,317.5" stroke="#ffff00"/>
<!-- bathtub -->
<path d="M549.5,414.5 L574.5,414.5 L574.5,470.5 L549.5,470.5 Z" stroke="#0000ff"/>
<path d="M550.5,414.5 L550.5,470.5" stroke="#0000ff"/>
<path d="M549.5,415.5 L574.5,415.5" stroke="#0000ff"/>
<path  d="M554.5,418.5 L570.5,418.5 L572.5,420.5 L572.5,458.5 L567.5,467.5 L557.5,467.5 L552.5,458.5 L552.5,420.5 Z" stroke="#0000ff"/>
<path d="M553.5,456.5 L557.5,463.5 L567.5,463.5 L571.5,456.5" stroke="#0000ff"/>
<path d="M553.5,427.5 L553.5,441.5" stroke="#0000ff"/>
<rect x="551" y="441" width="2" height="17" fill="#0000ff"/>
<path d="M570.5,427.5 L570.5,434.5" stroke="#0000ff"/>
<path d="M571.5,434.5 L571.5,449.5" stroke="#0000ff"/>
<rect x="560" y="416" width="5" height="1" fill="#0000ff"/>
<rect x="561" y="417" width="3" height="1" fill="#0000ff"/>
<ellipse class="s" cx="562.5" cy="422" rx="2" ry="1.3" stroke="#0000ff"/>
<!-- toilets -->
<path d="M601.5,462.5 L621.5,462.5 L621.5,470.5 L601.5,470.5 Z" stroke="#00ffff"/>
<path d="M602.5,463.5 L620.5,463.5 L620.5,469.5 L602.5,469.5 Z" stroke="#00ffff"/>
<path  d="M611.5,439.5 L619.5,447.5 L616.5,453.5 L615.5,461.5 L607.5,461.5 L606.5,453.5 L603.5,447.5 Z" stroke="#00ffff"/>
<path d="M607.5,456.5 L608.5,458.5 L614.5,458.5 L615.5,456.5" stroke="#00ffff"/>
<path d="M604.5,448.5 L606.5,457.5" stroke="#00ffff"/>
<path d="M618.5,448.5 L616.5,457.5" stroke="#00ffff"/>
<path d="M239.5,437.5 L247.5,437.5 L247.5,457.5 L239.5,457.5 Z" stroke="#00ffff"/>
<path d="M240.5,438.5 L246.5,438.5 L246.5,456.5 L240.5,456.5 Z" stroke="#00ffff"/>
<path  d="M270.5,447.5 L262.5,455.5 L256.5,452.5 L248.5,451.5 L248.5,443.5 L256.5,442.5 L262.5,439.5 Z" stroke="#00ffff"/>
<path d="M253.5,443.5 L251.5,444.5 L251.5,450.5 L253.5,451.5" stroke="#00ffff"/>
<path d="M261.5,440.5 L252.5,442.5" stroke="#00ffff"/>
<path d="M261.5,454.5 L252.5,452.5" stroke="#00ffff"/>
<!-- compass -->
<path d="M348.50,400.20 L342.31,329.50" stroke="#00ff00" />
<path d="M348.50,400.20 L393.50,346.57" stroke="#00ff00" />
<path d="M348.50,400.20 L393.50,396.26" stroke="#00ff00" />
<path d="M348.50,400.20 L393.50,437.96" stroke="#00ff00" />
<path d="M348.50,400.20 L354.74,471.50" stroke="#00ff00" />
<path d="M348.50,400.20 L303.50,453.83" stroke="#00ff00" />
<path d="M348.50,400.20 L303.50,404.14" stroke="#00ff00" />
<path d="M348.50,400.20 L303.50,362.44" stroke="#00ff00" />
<path d="M348.50,400.20 L360.97,329.50" stroke="#0000ff" />
<path d="M348.50,400.20 L381.47,329.50" stroke="#0000ff" />
<path d="M348.50,400.20 L393.50,368.69" stroke="#0000ff" />
<path d="M348.50,400.20 L393.50,383.82" stroke="#0000ff" />
<path d="M348.50,400.20 L393.50,408.13" stroke="#0000ff" />
<path d="M348.50,400.20 L393.50,421.18" stroke="#0000ff" />
<path d="M348.50,400.20 L393.50,464.47" stroke="#0000ff" />
<path d="M348.50,400.20 L374.45,471.50" stroke="#0000ff" />
<path d="M348.50,400.20 L335.93,471.50" stroke="#0000ff" />
<path d="M348.50,400.20 L315.25,471.50" stroke="#0000ff" />
<path d="M348.50,400.20 L303.50,431.71" stroke="#0000ff" />
<path d="M348.50,400.20 L303.50,416.58" stroke="#0000ff" />
<path d="M348.50,400.20 L303.50,392.27" stroke="#0000ff" />
<path d="M348.50,400.20 L303.50,379.22" stroke="#0000ff" />
<path d="M348.50,400.20 L303.50,335.93" stroke="#0000ff" />
<path d="M348.50,400.20 L322.77,329.50" stroke="#0000ff" />
<!-- text -->
<text class="big" transform="translate(45.5,53.58) scale(0.58,1)" font-size="19.00" textLength="42.2" lengthAdjust="spacing" fill="#0000ff">图六</text>
<text class="big" transform="translate(204.5,50.58) scale(0.58,1)" font-size="19.00" textLength="108.6" lengthAdjust="spacing" fill="#00ff00">坎<tspan class="d">96</tspan>四泄生</text>
<text class="big" transform="translate(398,20.57) scale(0.58,1)" font-size="19.00" textLength="130.2" lengthAdjust="spacing" fill="#00ff00">丑向<tspan class="d">28</tspan>二绝煞</text>
<text class="big" transform="translate(43,141.07) scale(0.58,1)" font-size="19.00" textLength="107.8" lengthAdjust="spacing" fill="#00ff00">乾<tspan class="d">41</tspan>九祸死</text>
<text class="big" transform="translate(68.5,442.57) scale(0.58,1)" font-size="19.00" textLength="111.2" lengthAdjust="spacing" fill="#00ff00">兑<tspan class="d">39</tspan>一六煞</text>
<text class="big" transform="translate(279.5,513.58) scale(0.58,1)" font-size="19.00" textLength="126.7" lengthAdjust="spacing" fill="#00ff00">未山<tspan class="d">85</tspan>五五生</text>
<text class="big" transform="translate(511.5,513.58) scale(0.58,1)" font-size="19.00" textLength="105.2" lengthAdjust="spacing" fill="#00ff00">离<tspan class="d">17</tspan>三天死</text>
<text class="big" x="635.5" y="75.58" font-size="19.00" textLength="13" lengthAdjust="spacingAndGlyphs" fill="#00ff00">震</text>
<text class="big" transform="translate(635.5,100.08) scale(0.58,1)" font-size="19.00" textLength="22.4" lengthAdjust="spacing" fill="#00ff00"><tspan class="d">74</tspan></text>
<text class="big" x="635.5" y="124.58" font-size="19.00" textLength="13" lengthAdjust="spacingAndGlyphs" fill="#00ff00">六</text>
<text class="big" x="635.5" y="150.57" font-size="19.00" textLength="13" lengthAdjust="spacingAndGlyphs" fill="#00ff00">延</text>
<text class="big" x="635.5" y="175.57" font-size="19.00" textLength="13" lengthAdjust="spacingAndGlyphs" fill="#00ff00">死</text>
<text class="big" x="658" y="309.07" font-size="19.00" textLength="12.5" lengthAdjust="spacingAndGlyphs" fill="#00ff00">巽</text>
<text class="big" transform="translate(658,334.07) scale(0.58,1)" font-size="19.00" textLength="21.6" lengthAdjust="spacing" fill="#00ff00"><tspan class="d">63</tspan></text>
<text class="big" x="658" y="359.57" font-size="19.00" textLength="12.5" lengthAdjust="spacingAndGlyphs" fill="#00ff00">七</text>
<text class="big" x="658" y="384.57" font-size="19.00" textLength="12.5" lengthAdjust="spacingAndGlyphs" fill="#00ff00">伏</text>
<text class="big" x="658" y="409.07" font-size="19.00" textLength="12.5" lengthAdjust="spacingAndGlyphs" fill="#00ff00">旺</text>
<text class="sm" transform="translate(55.5,200.46) scale(0.58,1)" font-size="12.60" textLength="31.0" lengthAdjust="spacing" fill="#00ff00">书房</text>
<text class="sm" transform="translate(170,227.96) scale(0.58,1)" font-size="12.60" textLength="32.8" lengthAdjust="spacing" fill="#00ff00">餐厅</text>
<text class="sm" transform="translate(251,138.96) scale(0.58,1)" font-size="12.60" textLength="30.2" lengthAdjust="spacing" fill="#00ff00">厨房</text>
<text class="sm" transform="translate(330.5,62.95) scale(0.58,1)" font-size="12.60" textLength="30.2" lengthAdjust="spacing" fill="#00ff00">阳台</text>
<text class="sm" transform="translate(386,175.96) scale(0.58,1)" font-size="12.60" textLength="31.9" lengthAdjust="spacing" fill="#00ff00">客厅</text>
<text class="sm" transform="translate(523.5,180.46) scale(0.58,1)" font-size="12.60" textLength="47.4" lengthAdjust="spacing" fill="#00ff00">儿子房</text>
<text class="sm" transform="translate(561.5,254.46) scale(0.58,1)" font-size="12.60" textLength="31.0" lengthAdjust="spacing" fill="#00ff00">客房</text>
<text class="sm" transform="translate(253,357.95) scale(0.58,1)" font-size="12.60" textLength="45.7" lengthAdjust="spacing" fill="#00ff00">洗手间</text>
<text class="sm" transform="translate(267,430.45) scale(0.58,1)" font-size="12.60" textLength="31.0" lengthAdjust="spacing" fill="#00ff00">厕所</text>
<text class="sm" transform="translate(321.5,367.45) scale(0.58,1)" font-size="12.60" textLength="30.2" lengthAdjust="spacing" fill="#00ff00">客房</text>
<text class="sm" transform="translate(488,392.45) scale(0.58,1)" font-size="12.60" textLength="45.7" lengthAdjust="spacing" fill="#00ff00">主人房</text>
<text class="sm" transform="translate(574.5,361.45) scale(0.58,1)" font-size="12.60" textLength="44.8" lengthAdjust="spacing" fill="#00ff00">洗手间</text>
<text class="sm" transform="translate(589.5,430.95) scale(0.58,1)" font-size="12.60" textLength="44.0" lengthAdjust="spacing" fill="#00ff00">卫生间</text>
<text class="n" transform="translate(333.4,382.18) scale(0.58,1)" font-size="11.00" textLength="13.1" lengthAdjust="spacing" fill="#00ff00"><tspan class="d">96</tspan></text>
<text class="n" transform="translate(350.5,381.68) scale(0.58,1)" font-size="11.00" textLength="13.4" lengthAdjust="spacing" fill="#00ff00"><tspan class="d">28</tspan></text>
<text class="n" transform="translate(366,395.68) scale(0.58,1)" font-size="11.00" textLength="12.1" lengthAdjust="spacing" fill="#00ff00"><tspan class="d">74</tspan></text>
<text class="n" transform="translate(367.3,410.68) scale(0.58,1)" font-size="11.00" textLength="12.8" lengthAdjust="spacing" fill="#00ff00"><tspan class="d">63</tspan></text>
<text class="n" transform="translate(354.5,424.68) scale(0.58,1)" font-size="11.00" textLength="10.3" lengthAdjust="spacing" fill="#00ff00"><tspan class="d">17</tspan></text>
<text class="n" transform="translate(338.4,426.68) scale(0.58,1)" font-size="11.00" textLength="12.1" lengthAdjust="spacing" fill="#00ff00"><tspan class="d">85</tspan></text>
<text class="n" transform="translate(322,414.68) scale(0.58,1)" font-size="11.00" textLength="11.2" lengthAdjust="spacing" fill="#00ff00"><tspan class="d">39</tspan></text>
<text class="n" transform="translate(321.5,396.68) scale(0.58,1)" font-size="11.00" textLength="11.2" lengthAdjust="spacing" fill="#00ff00"><tspan class="d">41</tspan></text>
</svg>
</body></html>
